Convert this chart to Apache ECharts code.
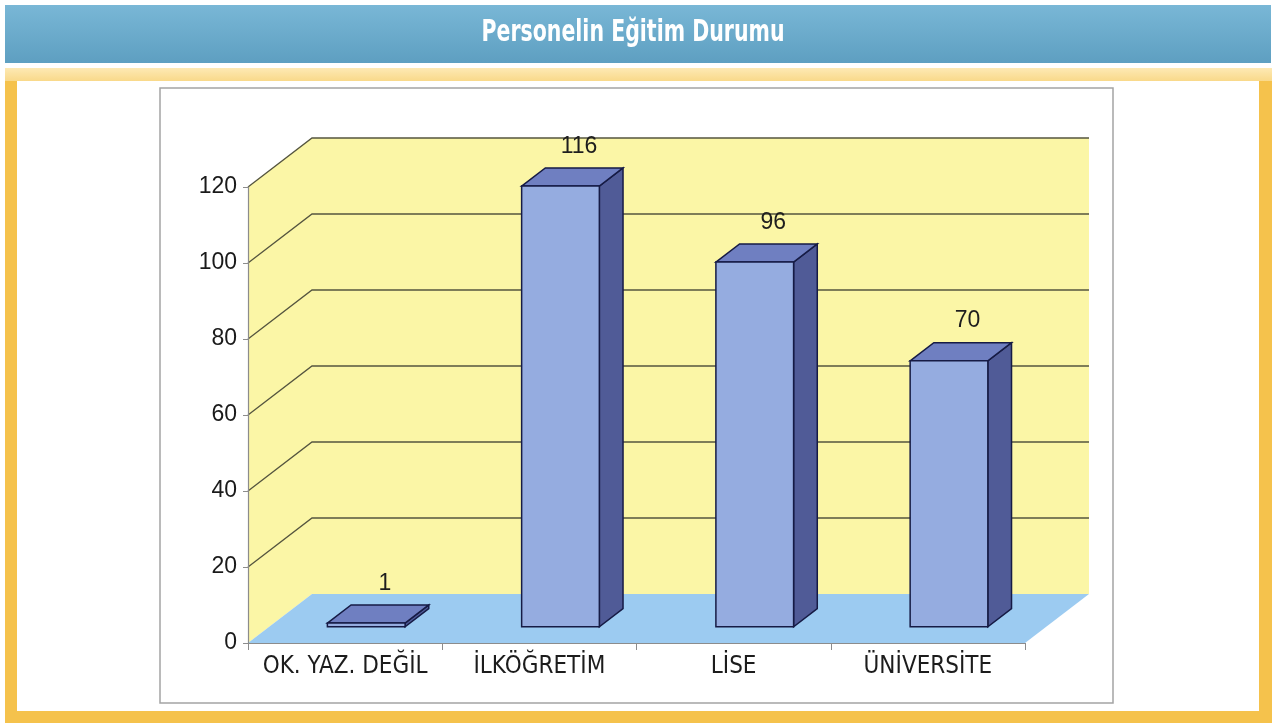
<!DOCTYPE html>
<html>
<head>
<meta charset="utf-8">
<style>
  html, body { margin: 0; padding: 0; background: #fff; }
  #chart { width: 1277px; height: 727px; }
</style>
<script src="https://cdn.jsdelivr.net/npm/echarts@6/dist/echarts.min.js"></script>
</head>
<body>
<div id="chart"></div>
<script>
const categories = ['OK. YAZ. DEĞİL', 'İLKÖĞRETİM', 'LİSE', 'ÜNİVERSİTE'];
const counts = [1, 116, 96, 70];
const yTicks = [0, 20, 40, 60, 80, 100, 120];

// depth of the fake 3D box (pixels) and where the bars sit inside it
const DX = 64;
const DY = -49;
const barFront = 0.33;
const barBack = 0.7;

const narrowFont = '"DejaVu Sans Condensed", "Liberation Sans Narrow", sans-serif';
const plainFont = '"Liberation Sans", Arial, sans-serif';

const chart = echarts.init(document.getElementById('chart'));

const renderWalls = (params, api) => {
  const bw = api.size([1, 0])[0];
  const x0 = api.coord([0, 0])[0] - bw / 2;
  const x1 = api.coord([categories.length - 1, 0])[0] + bw / 2;
  const y0 = api.coord([0, 0])[1];
  const yTop = api.coord([0, yTicks[yTicks.length - 1]])[1];
  const wallStyle = { fill: '#fbf6a6', stroke: null };
  const children = [
    {
      type: 'polygon',
      shape: { points: [[x0, yTop], [x0 + DX, yTop + DY], [x0 + DX, y0 + DY], [x0, y0]] },
      style: wallStyle
    },
    {
      type: 'polygon',
      shape: { points: [[x0 + DX, yTop + DY], [x1 + DX, yTop + DY], [x1 + DX, y0 + DY], [x0 + DX, y0 + DY]] },
      style: wallStyle
    },
    {
      type: 'polygon',
      shape: { points: [[x0, y0], [x0 + DX, y0 + DY], [x1 + DX, y0 + DY], [x1, y0]] },
      style: { fill: '#9ccbf1', stroke: null }
    }
  ];
  yTicks.forEach(v => {
    if (v === 0) return;
    const yv = api.coord([0, v])[1];
    children.push({
      type: 'polyline',
      shape: { points: [[x0, yv], [x0 + DX, yv + DY], [x1 + DX, yv + DY]] },
      style: { stroke: '#55553f', lineWidth: 1.3, fill: null }
    });
  });
  return { type: 'group', children };
};

const renderBar = (params, api) => {
  const idx = api.value(0);
  const base = api.coord([idx, 0]);
  const top = api.coord([idx, api.value(1)]);
  const w = api.size([1, 0])[0] * 0.4;
  const xl = base[0] - w / 2;
  const xr = base[0] + w / 2;
  const fx = DX * barFront, fy = DY * barFront;
  const bx = DX * barBack, by = DY * barBack;
  const edge = { stroke: '#161b45', lineWidth: 1.5 };
  return {
    type: 'group',
    children: [
      {
        type: 'polygon',
        shape: { points: [[xr + fx, top[1] + fy], [xr + bx, top[1] + by], [xr + bx, base[1] + by], [xr + fx, base[1] + fy]] },
        style: Object.assign({ fill: '#505b97' }, edge)
      },
      {
        type: 'polygon',
        shape: { points: [[xl + fx, top[1] + fy], [xl + bx, top[1] + by], [xr + bx, top[1] + by], [xr + fx, top[1] + fy]] },
        style: Object.assign({ fill: '#6f7fc1' }, edge)
      },
      {
        type: 'rect',
        shape: { x: xl + fx, y: top[1] + fy, width: w, height: base[1] - top[1] },
        style: Object.assign({ fill: '#95ace0' }, edge)
      },
      {
        type: 'text',
        x: base[0] + DX * 0.62,
        y: top[1] - 56,
        style: {
          text: String(api.value(1)),
          fill: '#1e1e1e',
          font: '23px ' + plainFont,
          align: 'center',
          verticalAlign: 'middle'
        }
      }
    ]
  };
};

const option = {
  animation: false,
  backgroundColor: '#fff',
  graphic: [
    {
      type: 'rect', z: -10,
      shape: { x: 5, y: 5, width: 1266, height: 58 },
      style: {
        fill: new echarts.graphic.LinearGradient(0, 0, 0, 1, [
          { offset: 0, color: '#79b7d6' },
          { offset: 1, color: '#5e9fc1' }
        ])
      }
    },
    {
      type: 'text', z: 10,
      x: 633, y: 33,
      scaleX: 0.76,
      style: {
        text: 'Personelin Eğitim Durumu',
        fill: '#fff',
        font: 'bold 30px ' + narrowFont,
        align: 'center',
        verticalAlign: 'middle'
      }
    },
    {
      type: 'rect', z: -10,
      shape: { x: 5, y: 68, width: 1267, height: 655 },
      style: { fill: '#f5c24c' }
    },
    {
      type: 'rect', z: -9,
      shape: { x: 5, y: 68, width: 1267, height: 13 },
      style: {
        fill: new echarts.graphic.LinearGradient(0, 0, 0, 1, [
          { offset: 0, color: '#fde9b4' },
          { offset: 1, color: '#f9d98a' }
        ])
      }
    },
    {
      type: 'rect', z: -8,
      shape: { x: 17, y: 81, width: 1242, height: 630 },
      style: { fill: '#fff' }
    },
    {
      type: 'rect', z: -7,
      shape: { x: 160, y: 88, width: 953, height: 615 },
      style: { fill: '#fff', stroke: '#a4a4a4', lineWidth: 1.5 }
    }
  ],
  grid: {
    left: 248,
    right: 252,
    top: 187,
    bottom: 84,
    containLabel: false
  },
  xAxis: {
    type: 'category',
    data: categories,
    axisLine: { show: true, lineStyle: { color: '#8c8c8c', width: 1.2 } },
    axisTick: { show: true, length: 7, lineStyle: { color: '#8c8c8c' } },
    axisLabel: {
      color: '#1c1c1c',
      fontFamily: narrowFont,
      fontSize: 24,
      margin: 12,
      interval: 0
    },
    splitLine: { show: false },
    z: 5
  },
  yAxis: {
    type: 'value',
    min: 0,
    max: 120,
    interval: 20,
    axisLine: { show: true, lineStyle: { color: '#8c8c8c', width: 1.2 } },
    axisTick: { show: true, length: 5, lineStyle: { color: '#8c8c8c' } },
    axisLabel: {
      color: '#1a1a1a',
      fontFamily: plainFont,
      fontSize: 23,
      margin: 11
    },
    splitLine: { show: false },
    z: 5
  },
  series: [
    {
      name: 'walls',
      type: 'custom',
      z: 1,
      silent: true,
      data: [[0, 0]],
      renderItem: renderWalls
    },
    {
      name: 'Personel',
      type: 'custom',
      z: 3,
      data: categories.map((c, i) => [i, counts[i]]),
      encode: { x: 0, y: 1 },
      renderItem: renderBar
    }
  ]
};

chart.setOption(option);
</script>
</body>
</html>
